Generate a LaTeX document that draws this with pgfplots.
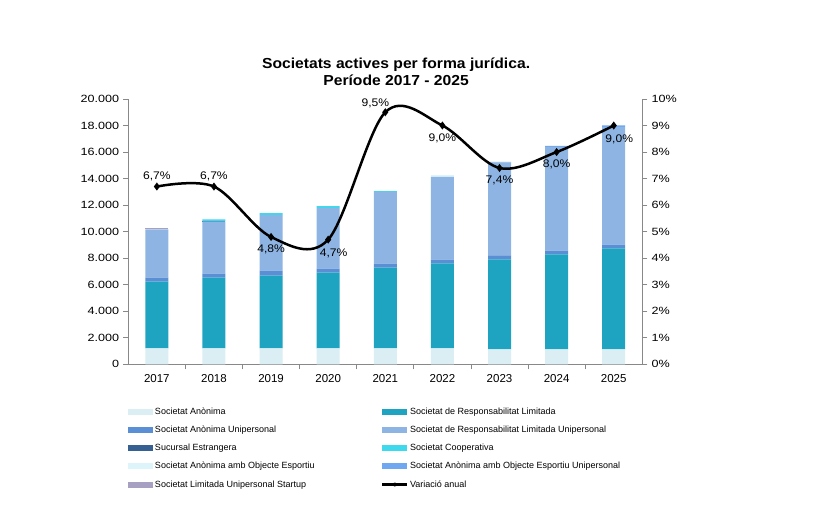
\documentclass[border=0pt]{standalone}
\usepackage{fontspec}
\setmainfont{Liberation Sans}
\usepackage{pgfplots}
\usepackage{pgfplotstable}
\pgfplotsset{compat=1.18}
\definecolor{cSA}{HTML}{DAEEF3}
\definecolor{cSRL}{HTML}{1EA3C1}
\definecolor{cSAU}{HTML}{5A8FD6}
\definecolor{cSRLU}{HTML}{8DB4E2}
\definecolor{cSUC}{HTML}{376092}
\definecolor{cCOOP}{HTML}{3ED9EC}
\definecolor{cSAOE}{HTML}{DDF4FB}
\definecolor{cSAOEU}{HTML}{6FA8F0}
\definecolor{cSLUS}{HTML}{A8A0C2}
\definecolor{axisgray}{HTML}{888888}
\pgfplotstableread{
x SA SRL SAU SRLU SUC COOP SAOE SAOEU SLUS
0 1200 5025 300 3646 0 0 0 0 120
1 1200 5327 300 3947 30 120 0 0 0
2 1200 5478 377 4219 0 126 0 0 0
3 1200 5704 300 4598 0 127 0 0 0
4 1200 6081 301 5426 0 52 0 0 0
5 1200 6411 272 6255 0 0 127 0 0
6 1130 6783 301 7008 0 0 0 46 0
7 1130 7159 272 7837 0 0 0 75 0
8 1130 7611 272 8892 0 0 0 105 0
}\bars
\pgfplotstableread{
x v
0 6.7
1 6.7
2 4.8
3 4.7
4 9.5
5 9.0
6 7.4
7 8.0
8 9.0
}\var
\begin{document}
\begin{tikzpicture}
\useasboundingbox (-128.3pt,-166.7pt) rectangle (694.7pt,364.3pt);
\begin{axis}[
  at={(0pt,0pt)}, anchor=south west,
  scale only axis, width=514pt, height=265.3pt,
  xmin=-0.5, xmax=8.5, ymin=0, ymax=20000,
  ybar stacked, bar width=23pt,
  axis x line*=bottom, axis y line*=left,
  axis line style={draw=axisgray, line width=0.8pt, -},
  tick style={draw=axisgray, line width=0.8pt},
  tick align=outside, major tick length=5pt,
  xtick={0.5,1.5,...,7.5}, xticklabels={},
  extra x ticks={0,1,2,3,4,5,6,7,8},
  extra x tick labels={2017,2018,2019,2020,2021,2022,2023,2024,2025},
  extra x tick style={tick style={draw=none}},
  x tick label style={font=\fontsize{11.5}{13}\selectfont, yshift=-1.5pt},
  ytick={0,2000,...,20000},
  scaled y ticks=false,
  y tick label style={font=\fontsize{10.5}{12}\selectfont, xscale=1.2, anchor=east},
  /pgf/number format/.cd, use comma, 1000 sep={.}, assume math mode=true,
  /pgfplots/.cd,
  legend columns=2,
  legend cell align=left,
  legend style={draw=none, fill=none, at={(0,-0.157)}, anchor=north west,
    font=\fontsize{9}{10}\selectfont, inner sep=0pt, row sep=7.1pt,
    /tikz/every even column/.append style={column sep=65pt},
    nodes={inner sep=1.5pt}},
  legend image code/.code={\path[#1,draw=none] (0pt,-3pt) rectangle (25pt,3pt);},
  every axis plot/.append style={draw=none},
]
\addplot[fill=cSA] table[x=x,y=SA]{\bars}; \addlegendentry{Societat Anònima}
\addplot[fill=cSRL] table[x=x,y=SRL]{\bars}; \addlegendentry{Societat de Responsabilitat Limitada}
\addplot[fill=cSAU] table[x=x,y=SAU]{\bars}; \addlegendentry{Societat Anònima Unipersonal}
\addplot[fill=cSRLU] table[x=x,y=SRLU]{\bars}; \addlegendentry{Societat de Responsabilitat Limitada Unipersonal}
\addplot[fill=cSUC] table[x=x,y=SUC]{\bars}; \addlegendentry{Sucursal Estrangera}
\addplot[fill=cCOOP] table[x=x,y=COOP]{\bars}; \addlegendentry{Societat Cooperativa}
\addplot[fill=cSAOE] table[x=x,y=SAOE]{\bars}; \addlegendentry{Societat Anònima amb Objecte Esportiu}
\addplot[fill=cSAOEU] table[x=x,y=SAOEU]{\bars}; \addlegendentry{Societat Anònima amb Objecte Esportiu Unipersonal}
\addplot[fill=cSLUS] table[x=x,y=SLUS]{\bars}; \addlegendentry{Societat Limitada Unipersonal Startup}
\addlegendimage{legend image code/.code={\draw[black, line width=2.5pt] (0pt,0pt) -- (25pt,0pt); \fill[black] (12.5pt,0pt) circle (2pt);}}
\addlegendentry{Variació anual}
\end{axis}
\begin{axis}[
  at={(0pt,0pt)}, anchor=south west,
  scale only axis, width=514pt, height=265.3pt,
  xmin=-0.5, xmax=8.5, ymin=0, ymax=10,
  axis y line*=right, axis x line=none,
  axis line style={draw=axisgray, line width=0.8pt, -},
  tick style={draw=axisgray, line width=0.8pt},
  tick align=outside, major tick length=5pt,
  ytick={0,1,...,10},
  yticklabel={\pgfmathprintnumber{\tick}\%},
  y tick label style={font=\fontsize{10.5}{12}\selectfont, xscale=1.2, anchor=west},
  /pgf/number format/assume math mode=true,
  clip=false,
  nodes near coords style={font=\fontsize{11}{13}\selectfont, xscale=1.1, inner sep=1pt, text=black},
]
\addplot[black, line width=2.5pt, smooth, tension=0.55, mark=diamond*, mark size=2pt, mark options={solid}] table[x=x,y=v]{\var};
% labels above
\addplot[draw=none, mark=none, point meta=explicit, nodes near coords={\pgfmathprintnumber[fixed,fixed zerofill,precision=1,use comma]{\pgfplotspointmeta}\%},
  nodes near coords style={anchor=south, yshift=4pt}] coordinates {(0,6.7) [6.7] (1,6.7) [6.7]};
\addplot[draw=none, mark=none, point meta=explicit, nodes near coords={\pgfmathprintnumber[fixed,fixed zerofill,precision=1,use comma]{\pgfplotspointmeta}\%},
  nodes near coords style={anchor=south, yshift=3pt, xshift=-9pt}] coordinates {(4,9.5) [9.5]};
% labels below
\addplot[draw=none, mark=none, point meta=explicit, nodes near coords={\pgfmathprintnumber[fixed,fixed zerofill,precision=1,use comma]{\pgfplotspointmeta}\%},
  nodes near coords style={anchor=north, yshift=-7pt}] coordinates {(2,4.8) [4.8] (5,9.0) [9.0] (6,7.4) [7.4] (7,8.0) [8.0]};
\addplot[draw=none, mark=none, point meta=explicit, nodes near coords={\pgfmathprintnumber[fixed,fixed zerofill,precision=1,use comma]{\pgfplotspointmeta}\%},
  nodes near coords style={anchor=north, yshift=-8pt, xshift=5pt}] coordinates {(3,4.7) [4.7] (8,9.0) [9.0]};
\node[font=\bfseries\fontsize{14.5}{17.3}\selectfont, align=center, xscale=1.08] at (axis description cs:0.521,1.104) {Societats actives per forma jurídica.\\Període 2017 - 2025};
\end{axis}
\end{tikzpicture}
\end{document}
